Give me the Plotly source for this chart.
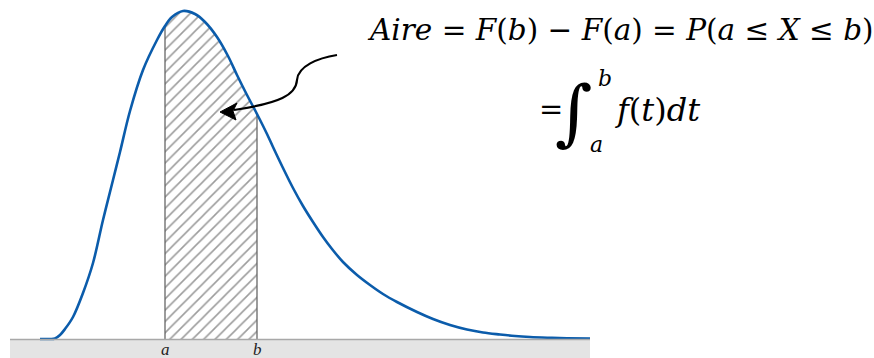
import plotly.graph_objects as go

# Density curve (x position, density height)
curve_x = [40, 50, 55, 60, 65, 73, 83, 93, 103, 113, 120, 130, 143, 157, 165,
           172, 183, 195, 205, 217, 228, 237, 247, 257, 267, 273, 283, 293, 303,
           313, 323, 332, 343, 357, 370, 383, 397, 417, 433, 450, 467, 483, 500,
           515, 530, 548, 567, 590]
curve_y = [0, 0, 0.5, 4, 10, 22, 46, 76, 119, 159, 187, 228, 269, 299, 313,
           322, 328, 325, 317, 302, 283, 264, 244, 225, 205, 192, 171, 151, 133,
           117, 102, 90, 77, 64, 54, 45, 37, 27, 20, 14, 9.5, 6.5, 4.5,
           3, 2, 1.3, 0.8, 0.5]

# Integration bounds
a_pos, b_pos = 165, 257
bound_labels = ["a", "b"]

BLUE = "#0b5cab"
SERIF = "DejaVu Serif"

def ypix(py):
    # vertical position measured from the top edge of the canvas
    return 339 - py

fig = go.Figure()

# hatched area between a and b
idx = [i for i, x in enumerate(curve_x) if a_pos <= x <= b_pos]
fig.add_trace(go.Scatter(
    x=[curve_x[i] for i in idx], y=[curve_y[i] for i in idx],
    mode="lines", line=dict(width=0, shape="spline"),
    fill="tozeroy", fillcolor="rgba(0,0,0,0)",
    fillpattern=dict(shape="/", fgcolor="#3a3a3a", bgcolor="white",
                     size=8, solidity=0.2),
    hoverinfo="skip", showlegend=False))

# vertical borders of the area
fa = curve_y[curve_x.index(a_pos)]
fb = curve_y[curve_x.index(b_pos)]
fig.add_trace(go.Scatter(
    x=[a_pos, a_pos, None, b_pos, b_pos], y=[0, fa, None, 0, fb],
    mode="lines", line=dict(color="#666666", width=1.3),
    hoverinfo="skip", showlegend=False))

# density curve
fig.add_trace(go.Scatter(
    x=curve_x, y=curve_y, mode="lines",
    line=dict(color=BLUE, width=2.6, shape="spline", smoothing=1.0),
    hoverinfo="skip", showlegend=False))

shapes = [
    # grey axis band
    dict(type="rect", xref="x", yref="y", x0=10, x1=590, y0=-19, y1=-1,
         fillcolor="#e4e4e4", line=dict(width=0), layer="below"),
    dict(type="line", xref="x", yref="y", x0=10, x1=590, y0=-0.5, y1=-0.5,
         line=dict(color="#a8a8a8", width=1.5)),
    # curved pointer
    dict(type="path", xref="x", yref="y",
         path=(f"M 337,{ypix(55)} C 318,{ypix(58)} 298,{ypix(66)} 297,{ypix(80)} "
               f"C 296,{ypix(95)} 280,{ypix(103)} 234,{ypix(110)}"),
         line=dict(color="black", width=2.2)),
    dict(type="path", xref="x", yref="y",
         path=(f"M 220,{ypix(112)} L 237,{ypix(103)} L 233,{ypix(111)} "
               f"L 236,{ypix(120)} Z"),
         fillcolor="black", line=dict(color="black", width=1)),
]

annotations = [
    dict(x=620, y=ypix(30), xref="x", yref="y", showarrow=False,
         text=("<i>Aire</i> = <i>F</i>(<i>b</i>) − <i>F</i>(<i>a</i>) = "
               "<i>P</i>(<i>a</i> ≤ <i>X</i> ≤ <i>b</i>)"),
         font=dict(family=SERIF, size=29.5, color="black")),
    dict(x=551, y=ypix(109), xref="x", yref="y", showarrow=False, text="=",
         font=dict(family=SERIF, size=29, color="black")),
    dict(x=574, y=ypix(112), xref="x", yref="y", showarrow=False, text="<i>∫</i>",
         font=dict(family=SERIF, size=72, color="black")),
    dict(x=605, y=ypix(78), xref="x", yref="y", showarrow=False, text="<i>b</i>",
         font=dict(family=SERIF, size=22, color="black")),
    dict(x=596, y=ypix(144), xref="x", yref="y", showarrow=False, text="<i>a</i>",
         font=dict(family=SERIF, size=22, color="black")),
    dict(x=657, y=ypix(110), xref="x", yref="y", showarrow=False,
         text="<i>f</i>(<i>t</i>)<i>dt</i>",
         font=dict(family=SERIF, size=32, color="black")),
]
for pos, lab in zip([a_pos, b_pos], bound_labels):
    annotations.append(dict(x=pos, y=ypix(349), xref="x", yref="y",
                            showarrow=False, text=f"<i>{lab}</i>",
                            font=dict(family="Liberation Serif", size=17,
                                      color="#222222")))

fig.update_layout(
    width=874, height=358, margin=dict(l=0, r=0, t=0, b=0),
    plot_bgcolor="white", paper_bgcolor="white",
    xaxis=dict(range=[0, 874], visible=False, fixedrange=True),
    yaxis=dict(range=[-19, 339], visible=False, fixedrange=True),
    shapes=shapes, annotations=annotations,
)

fig.write_html("out.html")
